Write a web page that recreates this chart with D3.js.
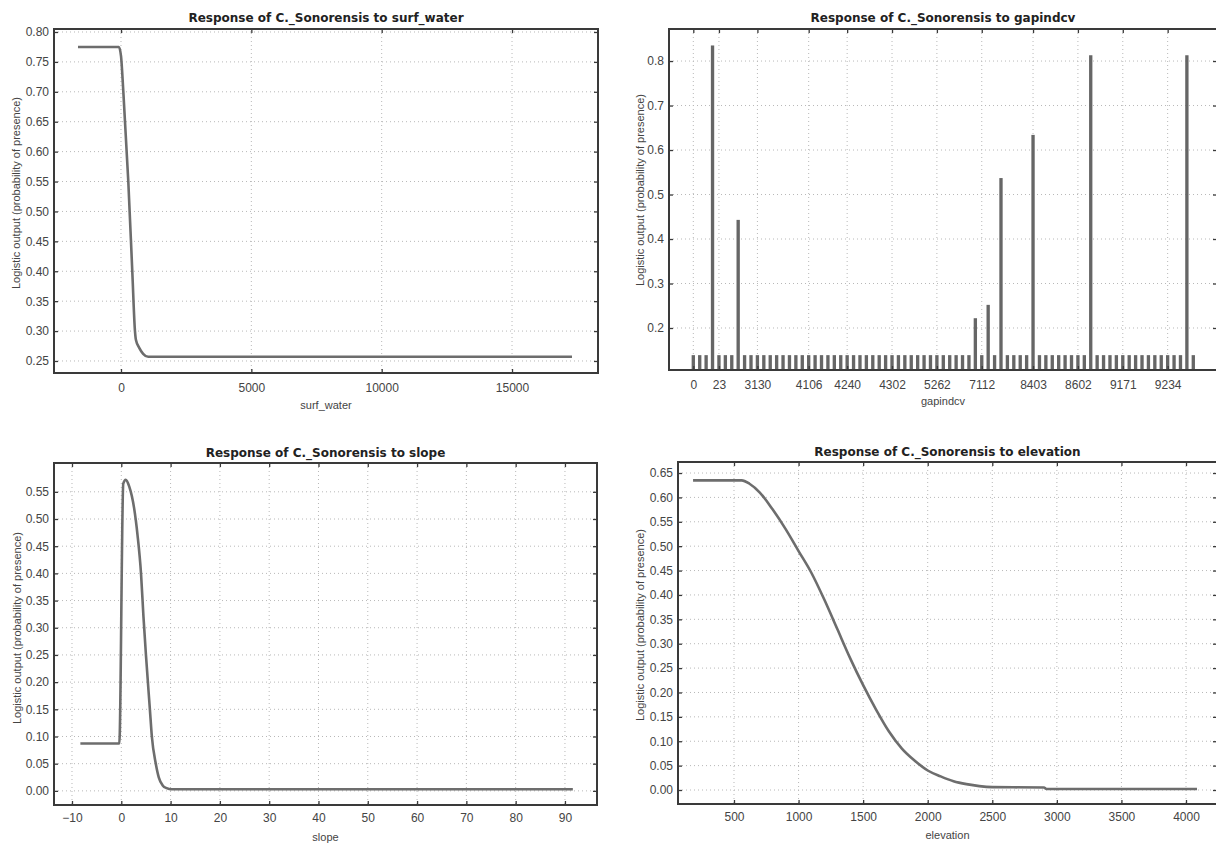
<!DOCTYPE html>
<html><head><meta charset="utf-8">
<script src="https://cdn.jsdelivr.net/npm/d3@7"></script>
<style>
body{margin:0;background:#fff}
svg{display:block}
text{font-family:"Liberation Sans",Arial,sans-serif;fill:#444}
.title{font-family:"DejaVu Sans",Verdana,sans-serif;font-weight:bold;font-size:12px;fill:#222}
</style>
</head><body>
<svg id="c" width="1216" height="843"></svg>
<script>
// ---------- DATA ----------
const titlePrefix = "Response of C._Sonorensis to ";
const yAxisLabel = "Logistic output (probability of presence)";

// surf_water
const surfWaterX = [-1650, -80, 0, 90, 280, 433, 536, 574, 700, 850, 1045, 17300];
const surfWaterY = [0.775, 0.775, 0.76, 0.70, 0.55, 0.40, 0.30, 0.285, 0.272, 0.262, 0.257, 0.257];
const surfWaterXTicks = [0, 5000, 10000, 15000];
const surfWaterYTicks = [0.25, 0.30, 0.35, 0.40, 0.45, 0.50, 0.55, 0.60, 0.65, 0.70, 0.75, 0.80];

// gapindcv (categorical; one value per category, in order)
const gapValues = [
  0.139, 0.139, 0.139, 0.835, 0.139, 0.139, 0.139, 0.443, 0.139, 0.139,
  0.139, 0.139, 0.139, 0.139, 0.139, 0.139, 0.139, 0.139, 0.139, 0.139,
  0.139, 0.139, 0.139, 0.139, 0.139, 0.139, 0.139, 0.139, 0.139, 0.139,
  0.139, 0.139, 0.139, 0.139, 0.139, 0.139, 0.139, 0.139, 0.139, 0.139,
  0.139, 0.139, 0.139, 0.139, 0.222, 0.139, 0.252, 0.139, 0.537, 0.139,
  0.139, 0.139, 0.139, 0.634, 0.139, 0.139, 0.139, 0.139, 0.139, 0.139,
  0.139, 0.139, 0.813, 0.139, 0.139, 0.139, 0.139, 0.139, 0.139, 0.139,
  0.139, 0.139, 0.139, 0.139, 0.139, 0.139, 0.139, 0.813, 0.139
];
const gapTickCategory = [0, 4, 10, 18, 24, 31, 38, 45, 53, 60, 67, 74];
const gapTickLabels = ["0", "23", "3130", "4106", "4240", "4302", "5262", "7112", "8403", "8602", "9171", "9234"];
const gapYTicks = [0.2, 0.3, 0.4, 0.5, 0.6, 0.7, 0.8];

// slope
const slopeX = [-8.3, -0.4, 0.4, 0.9, 1.6, 2.6, 3.3, 4.0, 4.5, 5.0, 5.8, 6.2, 7.0, 7.6, 8.4, 9.2, 10.2, 91.6];
const slopeY = [0.087, 0.087, 0.565, 0.572, 0.56, 0.52, 0.47, 0.40, 0.32, 0.25, 0.15, 0.10, 0.05, 0.025, 0.010, 0.005, 0.003, 0.003];
const slopeXTicks = [-10, 0, 10, 20, 30, 40, 50, 60, 70, 80, 90];
const slopeYTicks = [0.00, 0.05, 0.10, 0.15, 0.20, 0.25, 0.30, 0.35, 0.40, 0.45, 0.50, 0.55];

// elevation
const elevationX = [183, 560, 620, 700, 800, 900, 1000, 1100, 1200, 1300, 1400, 1500, 1600, 1700, 1800, 1900, 2000, 2100, 2200, 2300, 2400, 2500, 2900, 2920, 4085];
const elevationY = [0.635, 0.635, 0.628, 0.61, 0.575, 0.535, 0.49, 0.445, 0.39, 0.33, 0.27, 0.215, 0.165, 0.12, 0.085, 0.06, 0.04, 0.028, 0.018, 0.012, 0.008, 0.006, 0.005, 0.002, 0.002];
const elevationXTicks = [500, 1000, 1500, 2000, 2500, 3000, 3500, 4000];
const elevationYTicks = [0.00, 0.05, 0.10, 0.15, 0.20, 0.25, 0.30, 0.35, 0.40, 0.45, 0.50, 0.55, 0.60, 0.65];

// ---------- DRAWING ----------
const svg = d3.select("#c");
svg.append("rect").attr("width", 1216).attr("height", 843).attr("fill", "#fff");

const LINE = "#6d6d6d", FRAME = "#3a3a3a", GRID = "#b8b8b8";

function decorate(g, o, x, y, xTickVals) {
  const {L, T, R, B} = o;
  g.append("g").selectAll("line").data(o.yTicks).join("line")
    .attr("x1", L).attr("x2", R).attr("y1", d => y(d)).attr("y2", d => y(d))
    .attr("stroke", GRID).attr("stroke-width", 1).attr("stroke-dasharray", "1,3");
  g.append("g").selectAll("line").data(xTickVals).join("line")
    .attr("x1", d => x(d)).attr("x2", d => x(d)).attr("y1", T).attr("y2", B)
    .attr("stroke", GRID).attr("stroke-width", 1).attr("stroke-dasharray", "1,3");
}

function axes(g, o, x, y, xTickVals, xFmt, yFmt) {
  const {L, T, R, B} = o;
  const ax = g.append("g").attr("transform", `translate(0,${B})`)
    .call(d3.axisBottom(x).tickValues(xTickVals).tickFormat(xFmt).tickSize(-4).tickPadding(o.xPad));
  const axTop = g.append("g").attr("transform", `translate(0,${T})`)
    .call(d3.axisTop(x).tickValues(xTickVals).tickFormat("").tickSize(-4));
  const ay = g.append("g").attr("transform", `translate(${L},0)`)
    .call(d3.axisLeft(y).tickValues(o.yTicks).tickFormat(yFmt).tickSize(-4).tickPadding(5));
  const ayR = g.append("g").attr("transform", `translate(${R},0)`)
    .call(d3.axisRight(y).tickValues(o.yTicks).tickFormat("").tickSize(-4));
  [ax, axTop, ay, ayR].forEach(a => {
    a.select(".domain").remove();
    a.selectAll(".tick line").attr("stroke", FRAME).attr("stroke-width", 1.3);
    a.selectAll("text").attr("font-size", 12).attr("fill", "#444")
      .style("font-family", '"Liberation Sans", Arial, sans-serif');
  });
  g.append("rect").attr("x", L).attr("y", T).attr("width", R - L).attr("height", B - T)
    .attr("fill", "none").attr("stroke", FRAME).attr("stroke-width", 2);
  g.append("text").attr("class", "title").attr("x", (L + R) / 2).attr("y", o.titleY)
    .attr("text-anchor", "middle").text(titlePrefix + o.name);
  g.append("text").attr("x", (L + R) / 2).attr("y", o.xLabelY).attr("text-anchor", "middle")
    .attr("font-size", 11).text(o.name);
  g.append("text").attr("transform", `translate(${o.yLabX},${o.yLabCY}) rotate(-90)`)
    .attr("text-anchor", "middle").attr("font-size", 11).text(yAxisLabel);
}

function linePanel(o, xs, ys) {
  const g = svg.append("g");
  const x = d3.scaleLinear().domain(o.xDomain).range([o.L, o.R]);
  const y = d3.scaleLinear().domain(o.yDomain).range([o.B, o.T]);
  decorate(g, o, x, y, o.xTicks);
  const pts = xs.map((v, i) => [v, ys[i]]);
  g.append("path").datum(pts)
    .attr("d", d3.line().x(d => x(d[0])).y(d => y(d[1])).curve(d3.curveMonotoneX))
    .attr("fill", "none").attr("stroke", LINE).attr("stroke-width", 2.6)
    .attr("stroke-linejoin", "round");
  axes(g, o, x, y, o.xTicks, d3.format("d"), d3.format(".2f"));
}

linePanel({name: "surf_water", L: 54, T: 29, R: 598, B: 373,
  xDomain: [-2570, 18298], yDomain: [0.2299, 0.805],
  xTicks: surfWaterXTicks, yTicks: surfWaterYTicks, xPad: 10,
  titleY: 22, xLabelY: 409, yLabX: 20, yLabCY: 193}, surfWaterX, surfWaterY);

linePanel({name: "slope", L: 54, T: 463, R: 597, B: 805,
  xDomain: [-13.65, 96.5], yDomain: [-0.026, 0.603],
  xTicks: slopeXTicks, yTicks: slopeYTicks, xPad: 8.5,
  titleY: 457, xLabelY: 841, yLabX: 21, yLabCY: 628}, slopeX, slopeY);

linePanel({name: "elevation", L: 678, T: 462, R: 1217, B: 804,
  xDomain: [66.4, 4240], yDomain: [-0.0287, 0.6726],
  xTicks: elevationXTicks, yTicks: elevationYTicks, xPad: 8.5,
  titleY: 456, xLabelY: 839, yLabX: 644, yLabCY: 625}, elevationX, elevationY);

(function () {
  const o = {name: "gapindcv", L: 669, T: 29, R: 1217, B: 370, yTicks: gapYTicks, xPad: 10,
    titleY: 22, xLabelY: 405, yLabX: 644, yLabCY: 190};
  const g = svg.append("g");
  const cats = gapValues.map((v, i) => i);
  const x = d3.scaleBand().domain(cats).range([690.1, 1196.5]).paddingInner(0.48).paddingOuter(0.24);
  const xc = d => x(d) + x.bandwidth() / 2;
  const y = d3.scaleLinear().domain([0.1056, 0.872]).range([o.B, o.T]);
  const xPoint = d3.scalePoint().domain(cats).range([xc(0), xc(cats.length - 1)]);
  decorate(g, o, xPoint, y, gapTickCategory);
  g.append("g").selectAll("rect").data(gapValues).join("rect")
    .attr("x", (d, i) => x(i)).attr("width", x.bandwidth())
    .attr("y", d => y(d)).attr("height", d => o.B - y(d))
    .attr("fill", "#666");
  const lab = new Map(gapTickCategory.map((c, i) => [c, gapTickLabels[i]]));
  axes(g, o, xPoint, y, gapTickCategory, d => lab.get(d), d3.format(".1f"));
})();
</script>
</body></html>
